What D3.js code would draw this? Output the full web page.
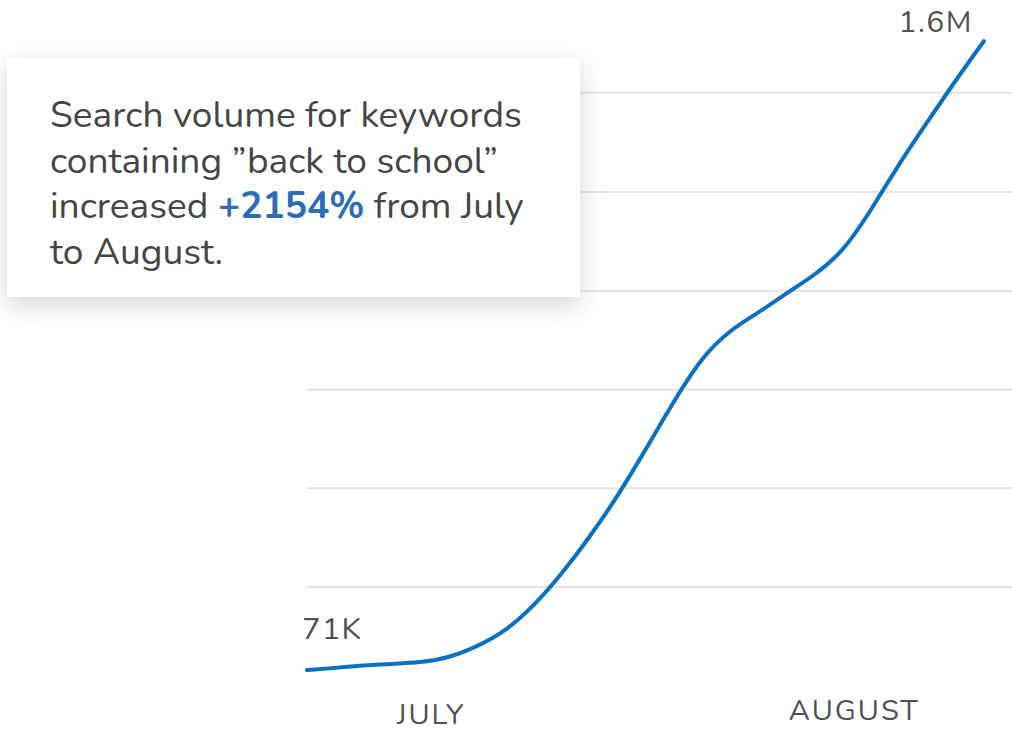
<!DOCTYPE html>
<html>
<head>
<meta charset="utf-8">
<script src="https://cdn.jsdelivr.net/npm/d3@7"></script>
<style>
  html, body { margin: 0; padding: 0; background: #ffffff; }
  svg { display: block; }
</style>
</head>
<body>
<svg id="chart" width="1012" height="732"></svg>
<script>
// ---- data (search volume, thousands) ----
const periods = d3.range(25); // sample index from early July to late August
const volume = [71, 76, 82, 86, 89, 100, 127, 163, 224, 302, 392, 492, 606, 724, 832, 898, 939, 987, 1031, 1087, 1189, 1303, 1404, 1505, 1600];
const gridValues = [273, 513, 752, 992, 1233, 1474];
const monthLabels = ["JULY", "AUGUST"];
const monthPositions = [4.4, 19.4];
const startLabel = "71K";
const endLabel = "1.6M";
const calloutLines = [
  [{t: "Search volume for keywords"}],
  [{t: "containing \u201Dback to school\u201D"}],
  [{t: "increased "}, {t: "+2154%", hl: true}, {t: " from July"}],
  [{t: "to August."}]
];

const svg = d3.select("#chart");
const font = "Nunito, Lato, 'Open Sans', sans-serif";

const x = d3.scaleLinear().domain([0, 24]).range([307, 984]);
const y = d3.scaleLinear().domain([71, 1600]).range([670, 41]);

// gridlines
svg.append("g").selectAll("line").data(gridValues).join("line")
  .attr("x1", 307).attr("x2", 1012)
  .attr("y1", d => y(d)).attr("y2", d => y(d))
  .attr("stroke", "#e5e5e5").attr("stroke-width", 2);

// line
const line = d3.line().x((d, i) => x(periods[i])).y(d => y(d)).curve(d3.curveBasis);
svg.append("path").datum(volume)
  .attr("d", line)
  .attr("fill", "none")
  .attr("stroke", "#0a70c0")
  .attr("stroke-width", 4)
  .attr("stroke-linecap", "round");

// end labels
svg.append("text").text(startLabel)
  .attr("x", x(0) - 5).attr("y", y(volume[0]) - 31)
  .attr("font-family", font).attr("font-size", 31)
  .attr("letter-spacing", 1.2).attr("fill", "#505050");
svg.append("text").text(endLabel)
  .attr("x", x(24) - 11).attr("y", y(volume[24]) - 9)
  .attr("text-anchor", "end")
  .attr("font-family", font).attr("font-size", 30)
  .attr("letter-spacing", 1.5).attr("fill", "#505050");

// month labels
svg.append("g").selectAll("text").data(monthLabels).join("text")
  .text(d => d)
  .attr("x", (d, i) => x(monthPositions[i]))
  .attr("y", (d, i) => i === 0 ? 724 : 720)
  .attr("text-anchor", "middle")
  .attr("font-family", font).attr("font-size", 29)
  .attr("letter-spacing", 2).attr("fill", "#505050");

// callout box
const defs = svg.append("defs");
const f = defs.append("filter").attr("id", "shadow")
  .attr("x", "-20%").attr("y", "-30%").attr("width", "140%").attr("height", "160%");
f.append("feDropShadow").attr("dx", 0).attr("dy", 8).attr("stdDeviation", 12)
  .attr("flood-color", "#000").attr("flood-opacity", 0.16);

svg.append("rect")
  .attr("x", 7).attr("y", 58).attr("width", 573).attr("height", 239)
  .attr("fill", "#ffffff").attr("filter", "url(#shadow)");

const tg = svg.append("g");
const baseSize = 35;
const texts = calloutLines.map((segs, li) => {
  const t = tg.append("text")
    .attr("x", 50).attr("y", 127 + li * 45.5)
    .attr("font-family", font).attr("font-size", baseSize).attr("fill", "#454545");
  segs.forEach(s => {
    const ts = t.append("tspan").text(s.t);
    if (s.hl) ts.attr("fill", "#2d6db6").attr("font-weight", "bold");
  });
  return t;
});
// fit first line width to 472px
const w0 = texts[0].node().getComputedTextLength();
const fs = baseSize * 472 / w0;
texts.forEach(t => t.attr("font-size", Math.min(Math.max(fs, 30), 40)));
</script>
</body>
</html>
